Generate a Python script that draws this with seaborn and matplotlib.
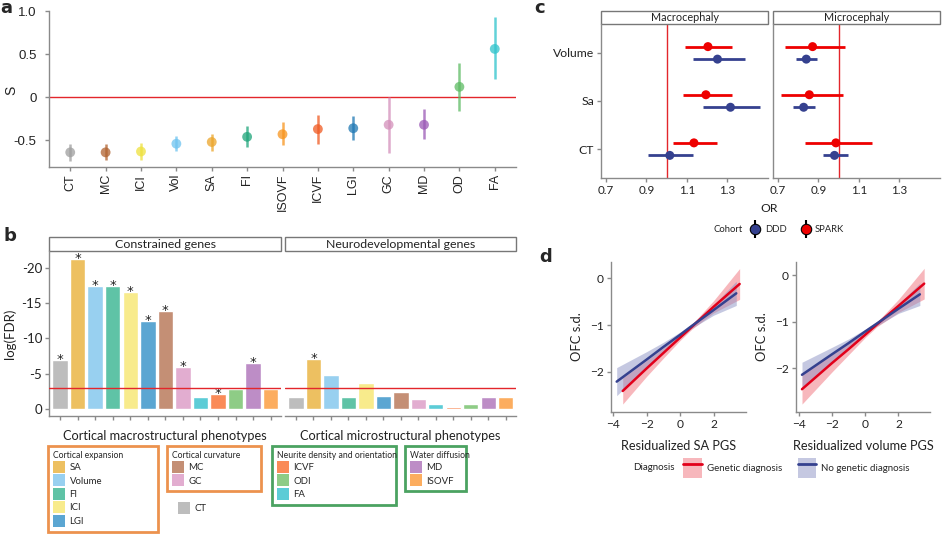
import numpy as np
import pandas as pd
import matplotlib
matplotlib.use("Agg")
import matplotlib.pyplot as plt
import seaborn as sns
from matplotlib.patches import Patch, Rectangle
from matplotlib.lines import Line2D

sns.set_theme(style="ticks")
plt.rcParams['font.family'] = ['Lato', 'DejaVu Sans']
plt.rcParams['axes.unicode_minus'] = False

# ---------------- data ----------------
# panel a
a_labels = ["CT", "MC", "ICI", "Vol", "SA", "FI", "ISOVF", "ICVF", "LGI", "GC", "MD", "OD", "FA"]
a_est = [-0.64, -0.64, -0.63, -0.54, -0.52, -0.46, -0.43, -0.37, -0.36, -0.32, -0.32, 0.12, 0.56]
a_lo = [-0.74, -0.73, -0.73, -0.63, -0.62, -0.58, -0.56, -0.54, -0.50, -0.65, -0.49, -0.16, 0.21]
a_hi = [-0.54, -0.54, -0.53, -0.45, -0.43, -0.34, -0.29, -0.21, -0.22, 0.00, -0.14, 0.40, 0.93]
a_colors = {"CT": "#9E9E9E", "MC": "#B0622F", "ICI": "#EEE13C", "Vol": "#6EC3F0", "SA": "#EBA52A",
            "FI": "#1FA57A", "ISOVF": "#F7941D", "ICVF": "#F05A22", "LGI": "#1F78B4", "GC": "#D48FBA",
            "MD": "#9B59B6", "OD": "#5DBB63", "FA": "#2EC4CC"}

# panel b
b_pheno = ["CT", "SA", "Volume", "FI", "ICI", "LGI", "MC", "GC", "FA", "ICVF", "ODI", "MD", "ISOVF"]
b_constrained = [-7.0, -21.3, -17.4, -17.4, -16.6, -12.5, -13.9, -6.0, -1.7, -2.2, -2.9, -6.5, -2.9]
b_neurodev = [-1.7, -7.1, -4.8, -1.7, -3.7, -1.9, -2.5, -1.5, -0.7, -0.3, -0.7, -1.8, -1.8]
b_sig_constrained = [1, 1, 1, 1, 1, 1, 1, 1, 0, 1, 0, 1, 0]
b_sig_neurodev = [0, 1, 0, 0, 0, 0, 0, 0, 0, 0, 0, 0, 0]
b_threshold = -3.0
b_colors = {"CT": "#BDBDBD", "SA": "#EDC061", "Volume": "#98D0F0", "FI": "#5FC3A6", "ICI": "#F8EB8C",
            "LGI": "#5BA6D2", "MC": "#C48F75", "GC": "#E2ADD0", "FA": "#5CCCD6", "ICVF": "#FA8B58",
            "ODI": "#8ECC86", "MD": "#BD8DC6", "ISOVF": "#FCAD5F"}
b_groups = [("Cortical expansion", ["SA", "Volume", "FI", "ICI", "LGI"], "#E87722"),
            ("Cortical curvature", ["MC", "GC"], "#E87722"),
            ("Neurite density and orientation", ["ICVF", "ODI", "FA"], "#1E8B3A"),
            ("Water diffusion", ["MD", "ISOVF"], "#1E8B3A")]

# panel c
c_pheno = ["Volume", "Sa", "CT"]
c_macro_ddd = [1.251, 1.315, 1.016]
c_macro_ddd_lo = [1.129, 1.182, 0.911]
c_macro_ddd_hi = [1.385, 1.462, 1.129]
c_macro_spark = [1.204, 1.194, 1.135]
c_macro_spark_lo = [1.093, 1.083, 1.034]
c_macro_spark_hi = [1.324, 1.321, 1.251]
c_micro_ddd = [0.841, 0.828, 0.980]
c_micro_ddd_lo = [0.790, 0.776, 0.921]
c_micro_ddd_hi = [0.895, 0.882, 1.049]
c_micro_spark = [0.872, 0.856, 0.987]
c_micro_spark_lo = [0.736, 0.717, 0.835]
c_micro_spark_hi = [1.033, 1.023, 1.167]
c_colors = {"DDD": "#35418F", "SPARK": "#EE0000"}

# panel d
d_sa_gen_x = [-3.42, -2, -1, 0, 0.7, 2, 3.56]
d_sa_gen_y = [-2.41, -1.93, -1.60, -1.27, -1.04, -0.61, -0.12]
d_sa_gen_lo = [-2.69, -2.10, -1.71, -1.33, -1.09, -0.74, -0.45]
d_sa_gen_hi = [-2.13, -1.76, -1.49, -1.21, -0.99, -0.48, 0.21]
d_sa_no_x = [-3.78, -2, -1, 0, 0.7, 2, 3.36]
d_sa_no_y = [-2.21, -1.74, -1.47, -1.21, -1.02, -0.68, -0.32]
d_sa_no_lo = [-2.51, -1.91, -1.57, -1.27, -1.07, -0.79, -0.58]
d_sa_no_hi = [-1.91, -1.57, -1.37, -1.15, -0.97, -0.57, -0.06]
d_vol_gen_x = [-3.8, -2, -1, 0, 0.7, 2, 3.55]
d_vol_gen_y = [-2.45, -1.89, -1.59, -1.28, -1.06, -0.66, -0.18]
d_vol_gen_lo = [-2.77, -2.08, -1.71, -1.34, -1.11, -0.80, -0.51]
d_vol_gen_hi = [-2.13, -1.70, -1.47, -1.22, -1.01, -0.52, 0.15]
d_vol_no_x = [-3.8, -2, -1, 0, 0.7, 2, 3.29]
d_vol_no_y = [-2.14, -1.70, -1.46, -1.21, -1.04, -0.72, -0.41]
d_vol_no_lo = [-2.41, -1.85, -1.55, -1.26, -1.09, -0.82, -0.65]
d_vol_no_hi = [-1.87, -1.55, -1.37, -1.16, -0.99, -0.62, -0.17]
d_colors = {"Genetic diagnosis": "#E2001A", "No genetic diagnosis": "#35418F"}
d_fill = {"Genetic diagnosis": "#F0707A", "No genetic diagnosis": "#8C93C4"}

# ---------------- figure ----------------
W, H = 944, 534
fig = plt.figure(figsize=(W / 100, H / 100), dpi=100)
SP = '#8a8a8a'
RED = '#E3262B'
ARIAL = ['Liberation Sans', 'DejaVu Sans']


def add_ax(l, t, r, b):
    return fig.add_axes([l / W, 1 - b / H, (r - l) / W, (b - t) / H])


def style(ax, left=True, bottom=True):
    for s in ['top', 'right']:
        ax.spines[s].set_visible(False)
    ax.spines['left'].set_visible(left)
    ax.spines['bottom'].set_visible(bottom)
    for s in ['left', 'bottom']:
        ax.spines[s].set_color(SP)
        ax.spines[s].set_linewidth(1)
    ax.tick_params(colors=SP, labelcolor='#222', length=3, width=1, pad=2)
    ax.set_facecolor('none')


def strip(ax, text, top_px, bottom_px, fs):
    bb = ax.get_position()
    h = (bottom_px - top_px) / H / bb.height
    ax.add_patch(Rectangle((0, 1), 1, h, transform=ax.transAxes, clip_on=False,
                           fc='white', ec='#777777', lw=1))
    ax.text(0.5, 1 + h / 2, text, transform=ax.transAxes, ha='center', va='center',
            fontsize=fs, color='#222')


def px(x, y):
    return x / W, 1 - y / H


# ---- panel a ----
axA = add_ax(49, 11, 516, 167)
dfa = pd.DataFrame({'pheno': a_labels, 'pos': np.arange(len(a_labels)), 'S': a_est, 'lo': a_lo, 'hi': a_hi})
axA.vlines(dfa.pos, dfa.lo, dfa.hi, colors=[a_colors[p] for p in a_labels], lw=1.8, alpha=0.75, zorder=2)
sns.scatterplot(data=dfa, x='pos', y='S', hue='pheno', palette=a_colors, s=50, alpha=0.75,
                edgecolor='none', legend=False, ax=axA, zorder=3)
axA.axhline(0, color=RED, lw=1, zorder=1)
axA.set_xlim(-0.6, 12.6)
axA.set_ylim(-0.81, 1.0)
axA.set_xticks(dfa.pos)
axA.set_xticklabels(a_labels, rotation=90, fontsize=9, family=ARIAL)
axA.set_yticks([-0.5, 0, 0.5, 1.0])
axA.set_yticklabels(["-0.5", "0", "0.5", "1.0"], fontsize=9.5, family=ARIAL)
axA.set_xlabel("")
axA.set_ylabel("")
style(axA)
axA.tick_params(axis='y', pad=6)
fig.text(*px(11, 90), "S", rotation=90, ha='center', va='center', fontsize=10, family=ARIAL, color='#222')

# ---- panel b ----
b_panels = [(49, 281, b_constrained, b_sig_constrained, "Constrained genes", "Cortical macrostructural phenotypes"),
            (285, 516, b_neurodev, b_sig_neurodev, "Neurodevelopmental genes", "Cortical microstructural phenotypes")]
for k, (l, r, vals, sig, title, xl) in enumerate(b_panels):
    ax = add_ax(l, 251, r, 416)
    dfb = pd.DataFrame({'pheno': b_pheno, 'logFDR': vals})
    sns.barplot(data=dfb, x='pheno', y='logFDR', hue='pheno', order=b_pheno, hue_order=b_pheno,
                palette=b_colors, saturation=1, width=0.88, legend=False, ax=ax)
    for i, (v, s) in enumerate(zip(vals, sig)):
        if s:
            ax.text(i, v + 0.45, "*", ha='center', va='baseline', fontsize=9.5, color='#222',
                    family=['DejaVu Sans'])
    ax.axhline(b_threshold, color=RED, lw=1, zorder=5)
    ax.set_ylim(0.95, -22.36)
    ax.set_xlim(-0.63, 12.59)
    ax.set_xticks(range(len(b_pheno)))
    ax.set_xticklabels([""] * len(b_pheno))
    ax.set_xlabel(xl, fontsize=9.2, color='#222', labelpad=5)
    style(ax, left=(k == 0))
    if k == 0:
        ax.set_yticks([0, -5, -10, -15, -20])
        ax.set_yticklabels(["0", "-5", "-10", "-15", "-20"], fontsize=9.5)
        ax.set_ylabel("log(FDR)", fontsize=9.5, color='#222', labelpad=4)
    else:
        ax.set_yticks([])
        ax.set_ylabel("")
    strip(ax, title, 237, 251, 8.9)

# legends for panel b (grouped colour keys)
LFS = 6.9
TFS = 6.2
leg_boxes = [(48, 446, 110), (167, 446, 94), (272, 446, 124), (405, 446, 61)]
for (gtitle, members, ecol), (bx, by, bw) in zip(b_groups, leg_boxes):
    handles = [Patch(facecolor=b_colors[m], edgecolor='none') for m in members]
    x0, y1 = px(bx, by)
    lg = fig.legend(handles, members, title=gtitle, loc='upper left',
                    bbox_to_anchor=(x0, y1 - 0.3 / H, bw / W, 0.001), mode='expand',
                    frameon=True, fancybox=False, edgecolor=ecol, fontsize=LFS,
                    title_fontsize=TFS, alignment='left', handlelength=1.3, handleheight=1.55,
                    labelspacing=0.15, handletextpad=0.45, borderpad=0.5, borderaxespad=0)
    lg.get_frame().set_linewidth(2)
ct_leg = fig.legend([Patch(facecolor=b_colors["CT"], edgecolor='none')], ["CT"], loc='upper left',
                    bbox_to_anchor=px(174, 498), frameon=False, fontsize=LFS,
                    handlelength=1.3, handleheight=1.55, handletextpad=0.45, borderaxespad=0)

# ---- panel c ----
c_panels = [(601, 768, "Macrocephaly", c_macro_ddd, c_macro_ddd_lo, c_macro_ddd_hi,
             c_macro_spark, c_macro_spark_lo, c_macro_spark_hi),
            (773, 940, "Microcephaly", c_micro_ddd, c_micro_ddd_lo, c_micro_ddd_hi,
             c_micro_spark, c_micro_spark_lo, c_micro_spark_hi)]
offsets = {"SPARK": -0.13, "DDD": 0.13}
for k, (l, r, title, dd, dlo, dhi, sp, slo, shi) in enumerate(c_panels):
    ax = add_ax(l, 24, r, 178)
    rows = []
    for i, ph in enumerate(c_pheno):
        rows.append(dict(pheno=ph, cohort="DDD", OR=dd[i], lo=dlo[i], hi=dhi[i], y=i + offsets["DDD"]))
        rows.append(dict(pheno=ph, cohort="SPARK", OR=sp[i], lo=slo[i], hi=shi[i], y=i + offsets["SPARK"]))
    dfc = pd.DataFrame(rows)
    ax.axvline(1.0, color=RED, lw=1, zorder=1)
    ax.hlines(dfc.y, dfc.lo, dfc.hi, colors=dfc.cohort.map(c_colors), lw=2, zorder=2)
    sns.scatterplot(data=dfc, x='OR', y='y', hue='cohort', palette=c_colors, s=42,
                    edgecolor='none', legend=False, ax=ax, zorder=3)
    ax.set_xlim(0.677, 1.50)
    ax.set_ylim(2.6, -0.6)
    ax.set_xticks([0.7, 0.9, 1.1, 1.3])
    ax.set_xticklabels(["0.7", "0.9", "1.1", "1.3"], fontsize=8.4)
    ax.set_xlabel("")
    ax.set_ylabel("")
    style(ax)
    if k == 0:
        ax.set_yticks(range(3))
        ax.set_yticklabels(c_pheno, fontsize=8.8)
    else:
        ax.set_yticks([])
    strip(ax, title, 11, 24, 7.8)
fig.text(*px(769, 208), "OR", ha='center', va='center', fontsize=8.8, color='#222')
fig.text(*px(713, 230), "Cohort", ha='left', va='center', fontsize=6.8, color='#222')
vbar = Line2D([], [], marker='|', markersize=13, markeredgewidth=1.5, color='black', linestyle='none')
c_handles = [(vbar, Line2D([], [], marker='o', markersize=7.5, markerfacecolor=c_colors[c],
                           markeredgecolor='black', markeredgewidth=0.8, linestyle='none'))
             for c in ["DDD", "SPARK"]]
fig.legend(c_handles, ["DDD", "SPARK"], ncol=2, loc='center left', bbox_to_anchor=px(746, 230),
           frameon=False, fontsize=6.8, handlelength=1.2, columnspacing=1.4, handletextpad=0.4,
           borderaxespad=0)

# ---- panel d ----
d_panels = [(611, 746, "Residualized SA PGS",
             [("Genetic diagnosis", d_sa_gen_x, d_sa_gen_y, d_sa_gen_lo, d_sa_gen_hi),
              ("No genetic diagnosis", d_sa_no_x, d_sa_no_y, d_sa_no_lo, d_sa_no_hi)],
             (-4.12, 3.94), (-2.86, 0.35)),
            (796, 930, "Residualized volume PGS",
             [("Genetic diagnosis", d_vol_gen_x, d_vol_gen_y, d_vol_gen_lo, d_vol_gen_hi),
              ("No genetic diagnosis", d_vol_no_x, d_vol_no_y, d_vol_no_lo, d_vol_no_hi)],
             (-4.16, 3.9), (-2.94, 0.285))]
for l, r, xl, series, xlim, ylim in d_panels:
    ax = add_ax(l, 262, r, 412)
    frames = []
    for name, xs, ys, lo, hi in series:
        ax.fill_between(xs, lo, hi, color=d_fill[name], alpha=0.5, lw=0)
        frames.append(pd.DataFrame({'pgs': xs, 'ofc': ys, 'Diagnosis': name}))
    dfd = pd.concat(frames)
    sns.lineplot(data=dfd, x='pgs', y='ofc', hue='Diagnosis', palette=d_colors, lw=1.8,
                 legend=False, ax=ax, zorder=3)
    ax.set_xlim(*xlim)
    ax.set_ylim(*ylim)
    ax.set_xticks([-4, -2, 0, 2])
    ax.set_xticklabels(["\u22124", "\u22122", "0", "2"], fontsize=8.6)
    ax.set_yticks([0, -1, -2])
    ax.set_yticklabels(["0", "\u22121", "\u22122"], fontsize=8.6)
    ax.set_xlabel(xl, fontsize=9.2, color='#222', labelpad=7)
    ax.set_ylabel("OFC s.d.", fontsize=9.4, color='#222', labelpad=5)
    style(ax)
fig.text(*px(633, 468), "Diagnosis", ha='left', va='center', fontsize=7, color='#222')
d_handles = [(Patch(facecolor=d_fill[n], alpha=0.5, edgecolor='none'),
              Line2D([], [], color=d_colors[n], lw=2)) for n in ["Genetic diagnosis", "No genetic diagnosis"]]
fig.legend(d_handles, ["Genetic diagnosis", "No genetic diagnosis"], ncol=2, loc='center left',
           bbox_to_anchor=px(679, 468), frameon=False, fontsize=7, handlelength=1.95,
           handleheight=2.8, columnspacing=1.6, handletextpad=0.5, borderaxespad=0)

# panel letters
for letter, (x, y) in {"a": (6, 8), "b": (10, 236), "c": (540, 8), "d": (546, 257)}.items():
    fig.text(*px(x, y), letter, fontsize=13, fontweight='bold', ha='center', va='center',
             family=['DejaVu Sans'])

fig.savefig("out.png", dpi=100)
